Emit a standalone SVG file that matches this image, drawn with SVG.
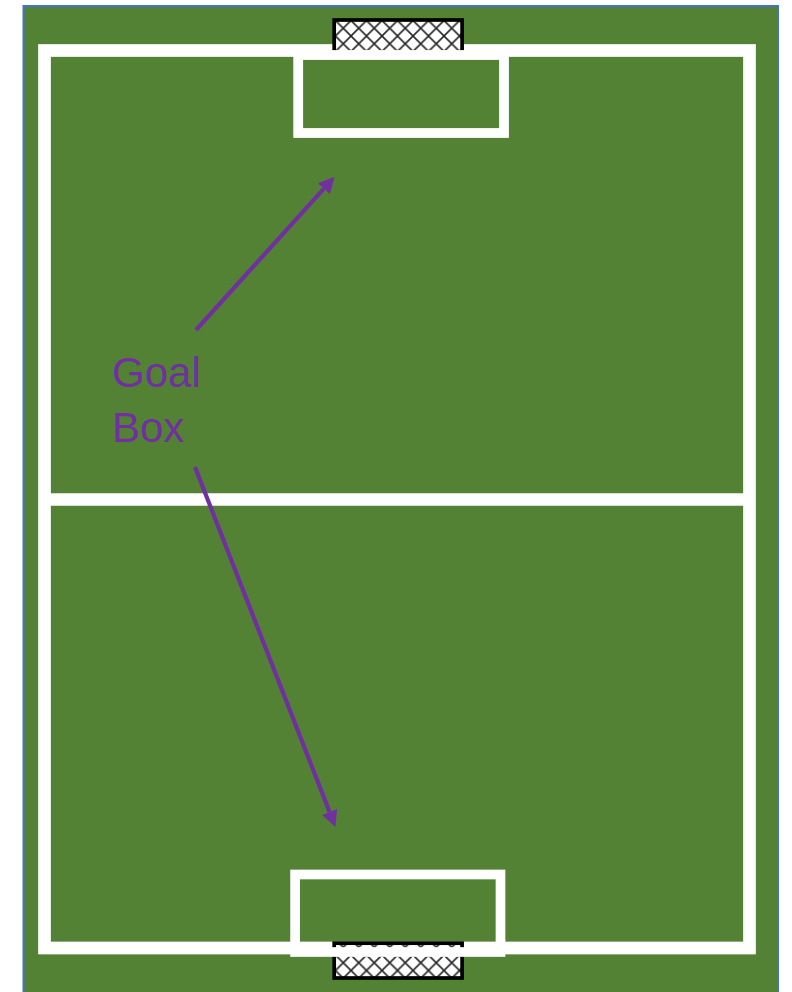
<svg xmlns="http://www.w3.org/2000/svg" width="792" height="992" viewBox="0 0 792 992">
  <style>
    .line { fill: none; stroke: #FFFFFF; }
    .net { stroke: #000000; stroke-width: 3.7; }
    .hatch-bg { fill: #FFFFFF; }
    .hatch-line { stroke: #262626; stroke-width: 1.6; fill: none; }
    .arrow { stroke: #7030A0; stroke-width: 4.2; fill: none; marker-end: url(#head); }
    .label { font-family: "Liberation Sans", Arial, sans-serif; font-size: 42px; fill: #7030A0; }
  </style>
  <defs>
    <pattern id="hatchTop" patternUnits="userSpaceOnUse" x="335.5" y="20.5" width="15.5" height="15.5">
      <rect class="hatch-bg" width="15.5" height="15.5"/>
      <path class="hatch-line" d="M0,0 L15.5,15.5 M15.5,0 L0,15.5"/>
    </pattern>
    <pattern id="hatchBottom" patternUnits="userSpaceOnUse" x="335.5" y="955" width="15.5" height="15.5">
      <rect class="hatch-bg" width="15.5" height="15.5"/>
      <path class="hatch-line" d="M0,0 L15.5,15.5 M15.5,0 L0,15.5"/>
    </pattern>
    <marker id="head" markerUnits="userSpaceOnUse" markerWidth="16" markerHeight="16" refX="0" refY="7.5" orient="auto" viewBox="0 0 15 15">
      <path d="M0,0 L15,7.5 L0,15 z" fill="#7030A0"/>
    </marker>
  </defs>

  <g id="field">
    <rect x="23.5" y="6" width="754.5" height="992" fill="#548235" stroke="#4472C4" stroke-width="2"/>
    <rect class="line" x="44.5" y="50.5" width="705" height="897.5" stroke-width="12.7"/>
    <line class="line" x1="50" y1="499.5" x2="744" y2="499.5" stroke-width="12.4"/>
  </g>

  <g id="goal-top">
    <rect class="net" x="334.2" y="20" width="127.9" height="33" fill="url(#hatchTop)"/>
  </g>
  <g id="goal-box-top">
    <rect class="line" x="298.2" y="55" width="205.8" height="78" stroke-width="9.8"/>
  </g>

  <g id="goal-bottom">
    <rect class="net" x="334.2" y="943.2" width="127.9" height="34.8" fill="url(#hatchBottom)"/>
  </g>
  <g id="goal-box-bottom">
    <rect class="line" x="295.1" y="874.5" width="205.4" height="77.5" stroke-width="9.7"/>
  </g>

  <g id="label">
    <text class="label" x="112" y="387">Goal</text>
    <text class="label" x="112" y="442">Box</text>
  </g>

  <g id="connectors">
    <line class="arrow" x1="196" y1="330" x2="323.9" y2="188.6"/>
    <line class="arrow" x1="195" y1="467" x2="329.6" y2="812"/>
  </g>
</svg>
